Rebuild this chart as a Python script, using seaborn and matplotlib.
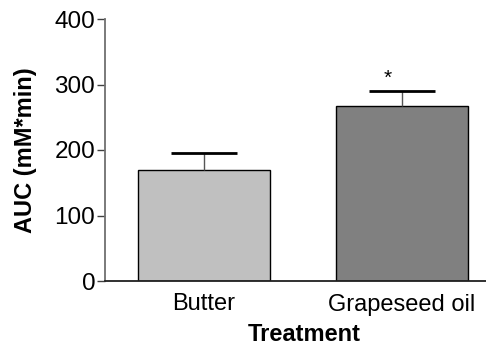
import matplotlib
matplotlib.use("Agg")
import matplotlib.pyplot as plt
import numpy as np
import pandas as pd
import seaborn as sns

# AUC by dietary fat treatment (mean ± SEM)
treatments = ["Butter", "Grapeseed oil"]
auc_mean = [170, 267]
auc_sem = [26, 23]
bar_colors = ["#c0c0c0", "#808080"]
significance = ["", "*"]
y_ticks = [0, 100, 200, 300, 400]

sns.set_style("ticks")
plt.rcParams["font.family"] = ["Liberation Sans", "DejaVu Sans"]
plt.rcParams["text.color"] = "black"
plt.rcParams["axes.labelcolor"] = "black"
plt.rcParams["xtick.labelcolor"] = "black"
plt.rcParams["ytick.labelcolor"] = "black"

df = pd.DataFrame({"Treatment": treatments, "AUC": auc_mean, "SEM": auc_sem})

fig = plt.figure(figsize=(4.86, 3.48), dpi=100)
ax = fig.add_axes([105 / 486, 1 - 281 / 348, 1 - 105 / 486, (281 - 19) / 348])

bar_width = 0.667
sns.barplot(data=df, x="Treatment", y="AUC", hue="Treatment", palette=bar_colors,
            width=bar_width, edgecolor="black", linewidth=1.0, errorbar=None,
            legend=False, ax=ax)

# upward-only SEM bars
xpos = np.arange(len(df))
tops = df["AUC"] + df["SEM"]
ax.vlines(xpos, df["AUC"], tops, color="#555555", linewidth=1.0, zorder=3)
ax.hlines(tops, xpos - bar_width / 4, xpos + bar_width / 4, color="black",
          linewidth=2.0, zorder=3)

for x, top, mark in zip(xpos, tops, significance):
    if mark:
        ax.annotate(mark, (x, top), xytext=(-10, 2), textcoords="offset points",
                    ha="center", va="bottom", fontsize=15, color="black")

ax.set_ylim(0, 400)
ax.set_xlim(-0.5, 1.424)
ax.set_yticks(y_ticks)
ax.tick_params(axis="y", length=6, width=1.0, color="#404040", labelsize=17.5, pad=1)
ax.tick_params(axis="x", length=0, labelsize=17, pad=9)

sns.despine(ax=ax)
ax.spines["left"].set_color("#707070")
ax.spines["left"].set_linewidth(1.3)
ax.spines["bottom"].set_color("#202020")
ax.spines["bottom"].set_linewidth(1.3)

ax.set_ylabel("AUC (mM*min)", fontsize=17, fontweight="bold")
ax.set_xlabel("Treatment", fontsize=17, fontweight="bold")
ax.yaxis.set_label_coords(-0.178, 0.5)
ax.xaxis.set_label_coords(0.522, -0.16)

fig.savefig("out.png", dpi=100)
